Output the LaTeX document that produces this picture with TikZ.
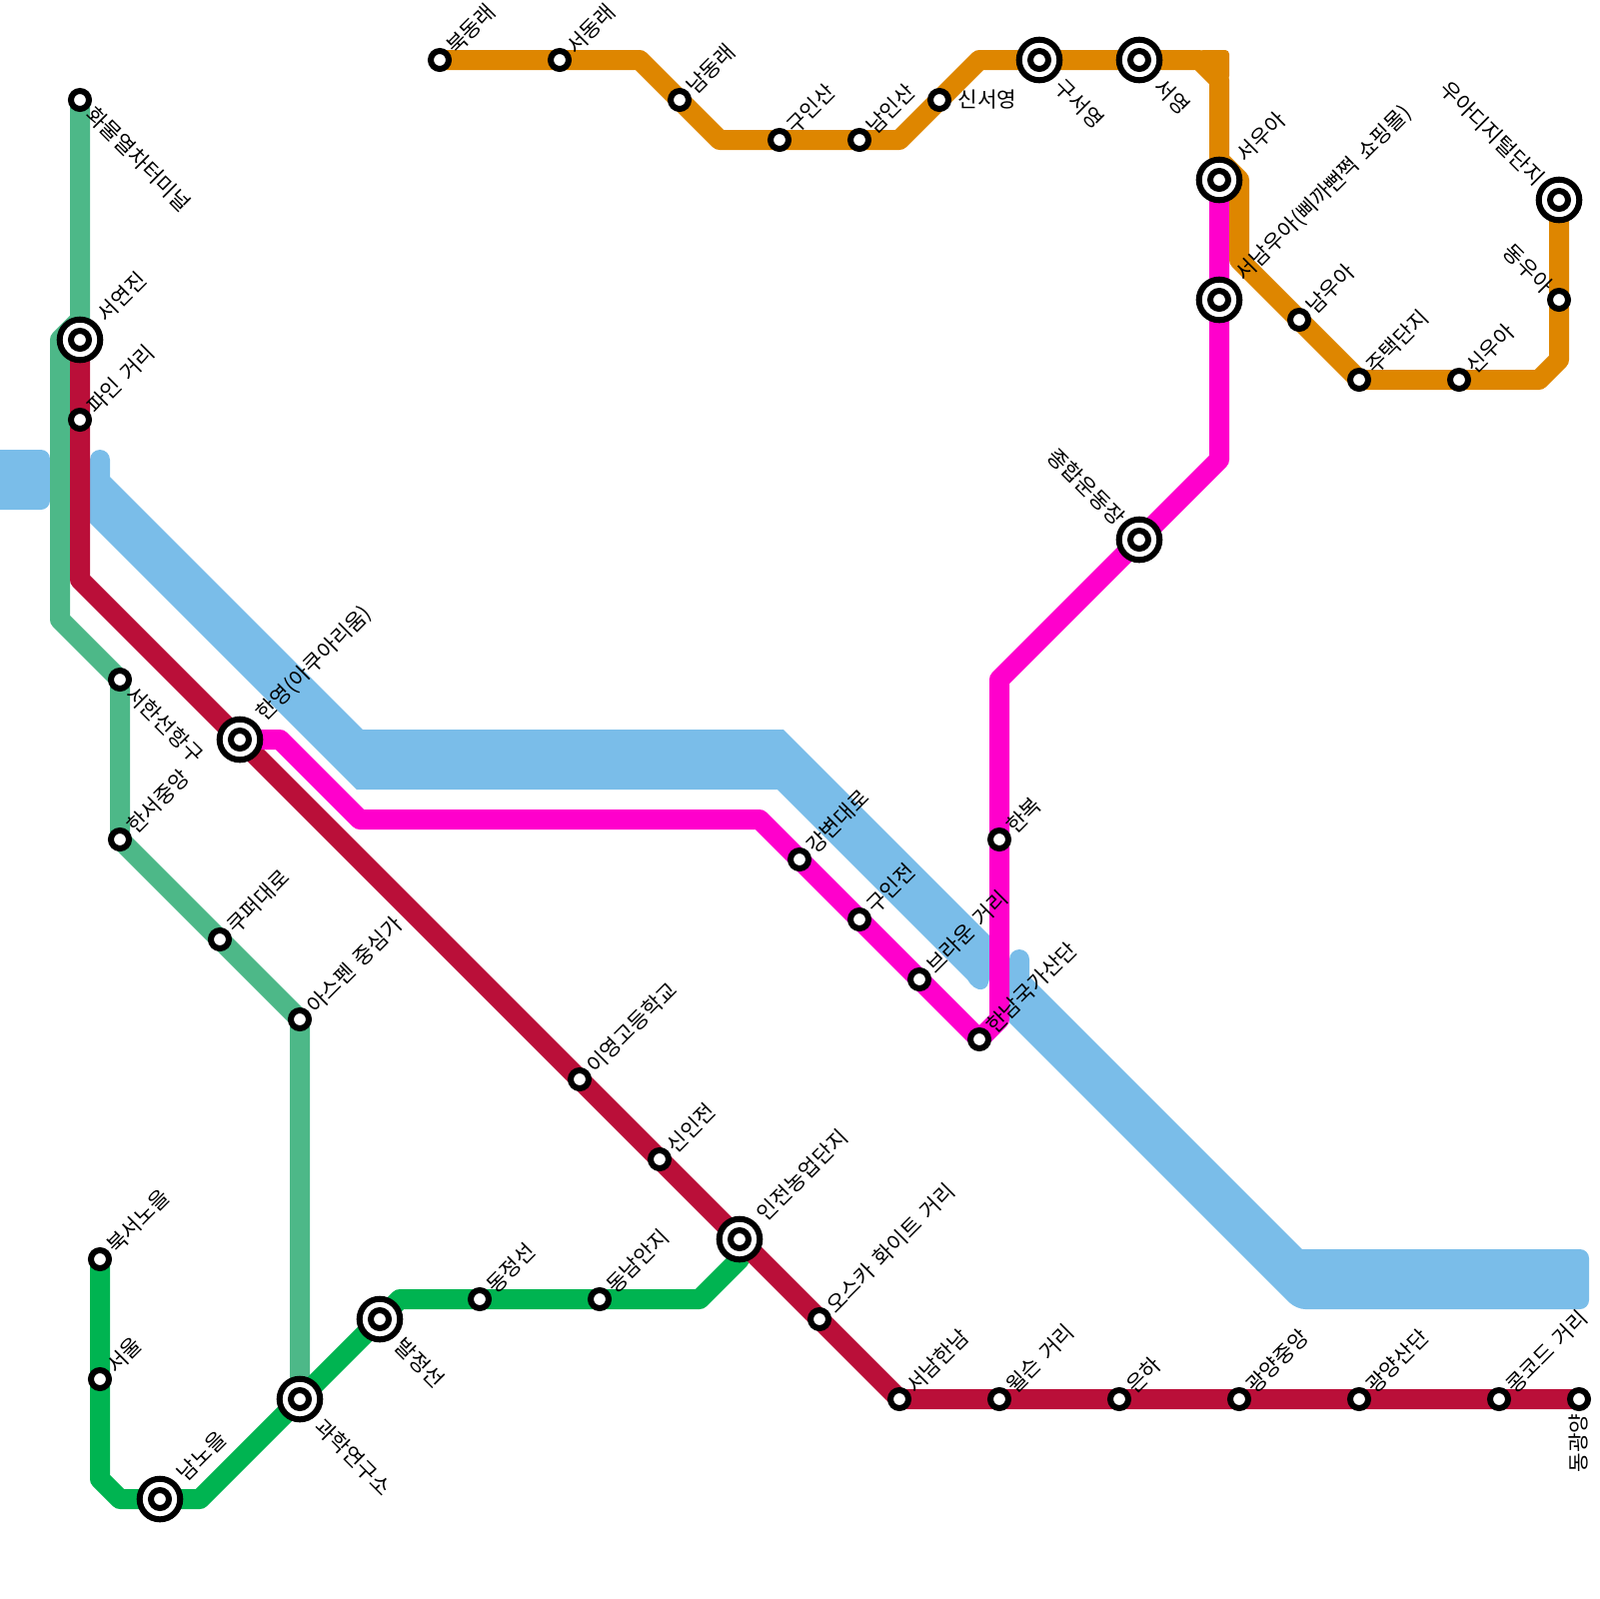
\documentclass[tikz,border=0pt]{standalone}
\usepackage{fontspec}
\setmainfont[WordSpace=1.6]{Noto Sans CJK KR}
\usetikzlibrary{backgrounds}

\definecolor{riverblue}{HTML}{7ABDE9}
\definecolor{lineteal}{HTML}{4DB888}
\definecolor{linered}{HTML}{BA0F39}
\definecolor{linepink}{HTML}{FF00CC}
\definecolor{lineorange}{HTML}{DE8600}
\definecolor{linegreen}{HTML}{00B451}

\begin{document}
\begin{tikzpicture}[
  x=0.1mm, y=-0.1mm,
  %% water bands
  river/.style={fill=riverblue},
  %% metro lines
  mline/.style={line width=2mm, line join=round},
  %% stations
  stn/.style={
    circle, draw=black, line width=0.6mm, fill=white,
    minimum size=1.8mm, inner sep=0pt
  },
  xfer/.style={
    stn, minimum size=4.06mm,
    path picture={\draw[black, line width=0.6mm]
      (path picture bounding box.center) circle (9);}
  },
  %% station labels
  lbl/.style={font=\fontsize{6.05pt}{7pt}\selectfont, inner sep=0.2mm},
  lblup/.style={lbl, rotate=45, anchor=west},
  lblupx/.style={lblup, xshift=0.5mm, yshift=0.1mm},
  lbldown/.style={lbl, rotate=-45, anchor=west},
  lbldownx/.style={lbldown, xshift=0.4mm, yshift=-0.3mm},
  lblback/.style={lbl, rotate=-45, anchor=east},
  lblright/.style={lbl, anchor=west},
  lblunder/.style={lbl, rotate=90, anchor=east}
]
\useasboundingbox (0,0) rectangle (1600,1600);

%% ================================================================
%% TEAL LINE
%% ================================================================
\node[stn]  (hwamul)   at (80,100)  {};
\node[xfer] (seoyeon)  at (80,340)  {};
\node[stn]  (seohan)   at (120,680) {};
\node[stn]  (hanseo)   at (120,840) {};
\node[stn]  (kupeo)    at (220,940) {};
\node[stn]  (aspen)    at (300,1020) {};
\node[xfer] (gwahak)   at (300,1400) {};

\node[lbldown]  (hwamull)  at (hwamul.south east)  {화물열차터미널};
\node[lblupx]   (seoyeonl) at (seoyeon.north east) {서연진};
\node[lbldown]  (seohanl)  at (seohan.south east)  {서한선항구};
\node[lblup]    (hanseol)  at (hanseo.north east)  {한서중앙};
\node[lblup]    (kupeol)   at (kupeo.north east)   {쿠퍼대로};
\node[lblup]    (aspenl)   at (aspen.north east)   {아스펜 중심가};
\node[lbldownx] (gwahakl)  at (gwahak.south east)  {과학연구소};

%% ================================================================
%% RED LINE
%% ================================================================
\node[stn]  (pine)     at (80,420)   {};
\node[xfer] (hanyeong) at (240,740)  {};
\node[stn]  (iyeong)   at (580,1080) {};
\node[stn]  (sinin)    at (660,1160) {};
\node[xfer] (injeon)   at (740,1240) {};
\node[stn]  (oscar)    at (820,1320) {};
\node[stn]  (seonam)   at (900,1400) {};
\node[stn]  (wilson)   at (1000,1400) {};
\node[stn]  (eunha)    at (1120,1400) {};
\node[stn]  (gymid)    at (1240,1400) {};
\node[stn]  (gyind)    at (1360,1400) {};
\node[stn]  (concord)  at (1500,1400) {};
\node[stn]  (donggy)   at (1580,1400) {};

\node[lblup]  (pinel)     at (pine.north east)     {파인 거리};
\node[lblupx] (hanyeongl) at (hanyeong.north east) {한영(아쿠아리움)};
\node[lblup]  (iyeongl)   at (iyeong.north east)   {이영고등학교};
\node[lblup]  (sininl)    at (sinin.north east)    {신인전};
\node[lblupx] (injeonl)   at (injeon.north east)   {인전농업단지};
\node[lblup]  (oscarl)    at (oscar.north east)    {오스카 화이트 거리};
\node[lblup]  (seonaml)   at (seonam.north east)   {서남한남};
\node[lblup]  (wilsonl)   at (wilson.north east)   {윌슨 거리};
\node[lblup]  (eunhal)    at (eunha.north east)    {은하};
\node[lblup]  (gymidl)    at (gymid.north east)    {광양중앙};
\node[lblup]  (gyindl)    at (gyind.north east)    {광양산단};
\node[lblup]  (concordl)  at (concord.north east)  {콩코드 거리};
\node[lblunder] (donggyl) at (donggy.south)        {동광양};

%% ================================================================
%% PINK LINE
%% ================================================================
\node[stn]  (gangbyeon) at (800,860)  {};
\node[stn]  (guinjeon)  at (860,920)  {};
\node[stn]  (brown)     at (920,980)  {};
\node[stn]  (hannam)    at (980,1040) {};
\node[stn]  (hanbok)    at (1000,840) {};
\node[xfer] (sports)    at (1140,540) {};
\node[xfer] (seonamua)  at (1220,300) {};

\node[lblup]   (gangbyeonl) at (gangbyeon.north east) {강변대로};
\node[lblup]   (guinjeonl)  at (guinjeon.north east)  {구인전};
\node[lblup]   (brownl)     at (brown.north east)     {브라운 거리};
\node[lblup]   (hannaml)    at (hannam.north east)    {한남국가산단};
\node[lblup]   (hanbokl)    at (hanbok.north east)    {한복};
\node[lblback] (sportsl)    at (sports.north west)    {종합운동장};
\node[lblupx]  (seonamual)  at (seonamua.north east)  {서남우아(삐까뻔쩍 쇼핑몰)};

%% ================================================================
%% ORANGE LINE
%% ================================================================
\node[stn]  (bukdong)  at (440,60)   {};
\node[stn]  (seodong)  at (560,60)   {};
\node[stn]  (namdong)  at (680,100)  {};
\node[stn]  (guinsan)  at (780,140)  {};
\node[stn]  (naminsan) at (860,140)  {};
\node[stn]  (sinseo)   at (940,100)  {};
\node[xfer] (guseo)    at (1040,60)  {};
\node[xfer] (seoyeong) at (1140,60)  {};
\node[xfer] (seoua)    at (1220,180) {};
\node[stn]  (namua)    at (1300,320) {};
\node[stn]  (jutaek)   at (1360,380) {};
\node[stn]  (sinua)    at (1460,380) {};
\node[stn]  (dongua)   at (1560,300) {};
\node[xfer] (uadi)     at (1560,200) {};

\node[lblup]    (bukdongl)  at (bukdong.north east)  {북동래};
\node[lblup]    (seodongl)  at (seodong.north east)  {서동래};
\node[lblup]    (namdongl)  at (namdong.north east)  {남동래};
\node[lblup]    (guinsanl)  at (guinsan.north east)  {구인산};
\node[lblup]    (naminsanl) at (naminsan.north east) {남인산};
\node[lblright, xshift=0.4mm] (sinseol) at (sinseo.east) {신서영};
\node[lbldownx] (guseol)    at (guseo.south east)    {구서영};
\node[lbldownx] (seoyeongl) at (seoyeong.south east) {서영};
\node[lblupx]   (seoual)    at (seoua.north east)    {서우아};
\node[lblup]    (namual)    at (namua.north east)    {남우아};
\node[lblup]    (jutaekl)   at (jutaek.north east)   {주택단지};
\node[lblup]    (sinual)    at (sinua.north east)    {신우아};
\node[lblback]  (dongual)   at (dongua.north west)   {동우아};
\node[lblback]  (uadil)     at (uadi.north west)     {우아디지털단지};

%% ================================================================
%% GREEN LINE
%% ================================================================
\node[stn]  (bukseo)  at (100,1260) {};
\node[stn]  (seoul)   at (100,1380) {};
\node[xfer] (namno)   at (160,1500) {};
\node[xfer] (baljeong) at (380,1320) {};
\node[stn]  (dongjeong) at (480,1300) {};
\node[stn]  (dongnam) at (600,1300) {};

\node[lblup]    (bukseol)    at (bukseo.north east)    {북서노을};
\node[lblup]    (seoull)     at (seoul.north east)     {서울};
\node[lblupx]   (namnol)     at (namno.north east)     {남노을};
\node[lbldownx] (baljeongl)  at (baljeong.south east)  {발정선};
\node[lblup]    (dongjeongl) at (dongjeong.north east) {동정선};
\node[lblup]    (dongnaml)   at (dongnam.north east)   {동남안지};

%% ================================================================
%% BENDS
%% ================================================================
\coordinate (tealA) at (80,320);
\coordinate (tealB) at (60,340);
\coordinate (tealC) at (60,620);
\coordinate (redA) at (80,580);
\coordinate (pinkA) at (280,740);
\coordinate (pinkB) at (360,820);
\coordinate (pinkC) at (760,820);
\coordinate (pinkD) at (1000,1020);
\coordinate (pinkE) at (1000,680);
\coordinate (pinkF) at (1220,460);
\coordinate (orangeA) at (640,60);
\coordinate (orangeB) at (720,140);
\coordinate (orangeC) at (900,140);
\coordinate (orangeD) at (980,60);
\coordinate (orangeE) at (1200,60);
\coordinate (orangeG) at (1220,80);
\coordinate (orangeH) at (1220,160);
\coordinate (orangeI) at (1240,180);
\coordinate (orangeJ) at (1240,260);
\coordinate (orangeK) at (1540,380);
\coordinate (orangeL) at (1560,360);
\coordinate (greenA) at (100,1480);
\coordinate (greenB) at (120,1500);
\coordinate (greenC) at (200,1500);
\coordinate (greenD) at (400,1300);
\coordinate (greenE) at (700,1300);
\coordinate (greenF) at (740,1260);

%% ================================================================
%% BANDS AND LINES, UNDER THE STATIONS
%% ================================================================
\begin{scope}[on background layer]
  \fill[river, rounded corners=0.9mm] (-20,450) -- (50,450) -- (50,510) -- (-20,510) -- cycle;
  \fill[river] (110,477) -- (363,730) -- (784,730) -- (990,936) -- (990,977)
    .. controls (990,994) and (976,994) .. (968,980)
    -- (778,790) -- (357,790) -- (80,513) -- (90,470)
    [rounded corners=1mm] -- (90,450) -- (110,450) [sharp corners] -- cycle;
  \fill[river] (1030,977) -- (1303,1250)
    [rounded corners=0.9mm] -- (1590,1250) -- (1590,1310) -- (1297,1310)
    [sharp corners] -- (1010,1023) -- (1010,970)
    [rounded corners=1mm] -- (1010,950) -- (1030,950) [sharp corners] -- cycle;

  \draw[mline, lineteal] (hwamul.center) -- (tealA) -- (tealB) -- (tealC)
    -- (seohan.center) -- (hanseo.center) -- (kupeo.center) -- (aspen.center)
    -- (gwahak.center);
  \draw[mline, linegreen] (bukseo.center) -- (seoul.center) -- (greenA) -- (greenB)
    -- (namno.center) -- (greenC) -- (gwahak.center) -- (baljeong.center) -- (greenD)
    -- (dongjeong.center) -- (dongnam.center) -- (greenE) -- (greenF) -- (injeon.center);
  \draw[mline, linered] (seoyeon.center) -- (pine.center) -- (redA) -- (hanyeong.center)
    -- (iyeong.center) -- (sinin.center) -- (injeon.center) -- (oscar.center)
    -- (seonam.center) -- (wilson.center) -- (eunha.center) -- (gymid.center)
    -- (gyind.center) -- (concord.center) -- (donggy.center);
  \draw[mline, linepink] (hanyeong.center) -- (pinkA) -- (pinkB) -- (pinkC)
    -- (gangbyeon.center) -- (guinjeon.center) -- (brown.center) -- (hannam.center)
    -- (pinkD) -- (hanbok.center) -- (pinkE) -- (sports.center) -- (pinkF)
    -- (seonamua.center) -- (seoua.center);
  \draw[mline, lineorange] (bukdong.center) -- (seodong.center) -- (orangeA)
    -- (namdong.center) -- (orangeB) -- (guinsan.center) -- (naminsan.center)
    -- (orangeC) -- (sinseo.center) -- (orangeD) -- (guseo.center)
    -- (seoyeong.center) -- (orangeE) -- (orangeG) -- (orangeH) -- (orangeI)
    -- (orangeJ) -- (namua.center) -- (jutaek.center)
    -- (sinua.center) -- (orangeK) -- (orangeL) -- (dongua.center) -- (uadi.center);
  %% square outer corner at the top
  \fill[lineorange, rounded corners=0.4mm] (1200,50) -- (1230,50) -- (1230,80) -- cycle;
\end{scope}

\end{tikzpicture}
\end{document}
